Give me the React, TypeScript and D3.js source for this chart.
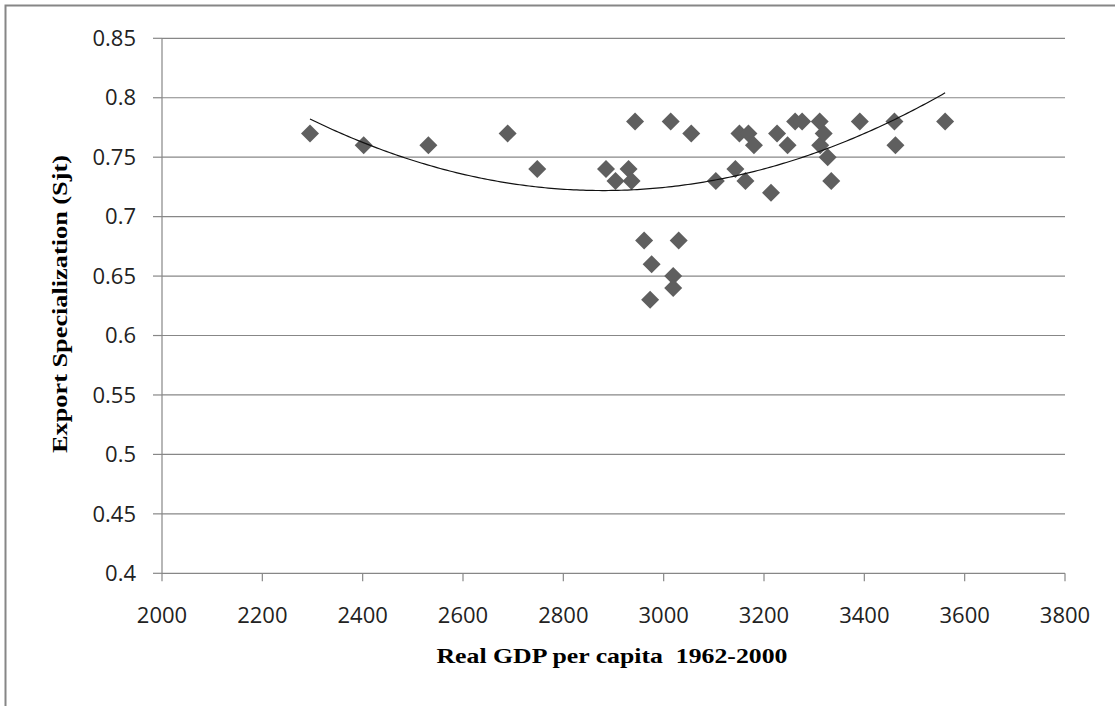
import React from "react";
import * as d3 from "d3";

const gdp = [
  2295, 2402, 2531, 2689, 2748, 2885, 2904, 2930, 2936, 2943, 2961, 2973, 2976,
  3014, 3019, 3019, 3030, 3055, 3104, 3143, 3151, 3163, 3169, 3180, 3214, 3226,
  3247, 3262, 3276, 3311, 3312, 3319, 3327, 3334, 3391, 3460, 3462, 3561,
];
const spec = [
  0.77, 0.76, 0.76, 0.77, 0.74, 0.74, 0.73, 0.74, 0.73, 0.78, 0.68, 0.63, 0.66,
  0.78, 0.65, 0.64, 0.68, 0.77, 0.73, 0.74, 0.77, 0.73, 0.77, 0.76, 0.72, 0.77,
  0.76, 0.78, 0.78, 0.78, 0.76, 0.77, 0.75, 0.73, 0.78, 0.78, 0.76, 0.78,
];
const xTicks = [2000, 2200, 2400, 2600, 2800, 3000, 3200, 3400, 3600, 3800];
const yTicks = [0.4, 0.45, 0.5, 0.55, 0.6, 0.65, 0.7, 0.75, 0.8, 0.85];
const xTitle = "Real GDP per capita  1962-2000";
const yTitle = "Export Specialization (Sjt)";

// least-squares quadratic fit (Excel polynomial trendline, order 2)
function quadFit(xs: number[], ys: number[]) {
  const n = xs.length;
  const mx = d3.mean(xs) as number;
  const u = xs.map((v) => (v - mx) / 1000);
  let s0 = n, s1 = 0, s2 = 0, s3 = 0, s4 = 0, t0 = 0, t1 = 0, t2 = 0;
  for (let i = 0; i < n; i++) {
    const a = u[i], y = ys[i];
    s1 += a; s2 += a * a; s3 += a * a * a; s4 += a * a * a * a;
    t0 += y; t1 += a * y; t2 += a * a * y;
  }
  const M = [
    [s0, s1, s2, t0],
    [s1, s2, s3, t1],
    [s2, s3, s4, t2],
  ];
  for (let c = 0; c < 3; c++) {
    for (let r = c + 1; r < 3; r++) {
      const f = M[r][c] / M[c][c];
      for (let k = c; k < 4; k++) M[r][k] -= f * M[c][k];
    }
  }
  const coef = [0, 0, 0];
  for (let r = 2; r >= 0; r--) {
    let s = M[r][3];
    for (let k = r + 1; k < 3; k++) s -= M[r][k] * coef[k];
    coef[r] = s / M[r][r];
  }
  return (x: number) => {
    const a = (x - mx) / 1000;
    return coef[0] + coef[1] * a + coef[2] * a * a;
  };
}

export default function App() {
  const W = 1115, H = 706;
  const x = d3.scaleLinear().domain([2000, 3800]).range([162, 1065]);
  const y = d3.scaleLinear().domain([0.4, 0.85]).range([573.3, 38.3]);
  const f = quadFit(gdp, spec);
  const [xmin, xmax] = d3.extent(gdp) as [number, number];
  const trendPts = d3.range(0, 201).map((i) => {
    const xv = xmin + ((xmax - xmin) * i) / 200;
    return [xv, f(xv)] as [number, number];
  });
  const line = d3
    .line<[number, number]>()
    .x((d) => x(d[0]))
    .y((d) => y(d[1]));
  const diamond = (cx: number, cy: number, r: number) =>
    `M${cx},${cy - r}L${cx + r},${cy}L${cx},${cy + r}L${cx - r},${cy}Z`;
  const gridColor = "#878787";
  const tickFont = "'Open Sans', sans-serif";
  const titleFont = "'Liberation Serif', 'Times New Roman', serif";

  return (
    <svg
      width={W}
      height={H}
      style={{ position: "absolute", left: 0, top: 0, display: "block", background: "#fff" }}
    >
      <rect x={5.5} y={5.5} width={W + 10} height={H + 10} fill="#fff" stroke="#868686" strokeWidth={2} />
      {/* gridlines */}
      {yTicks.map((t) => (
        <g key={"g" + t}>
          {t > 0.4 && (
            <line x1={x(2000)} x2={x(3800)} y1={y(t)} y2={y(t)} stroke={gridColor} strokeWidth={1.2} />
          )}
          <line x1={153} x2={x(2000)} y1={y(t)} y2={y(t)} stroke={gridColor} strokeWidth={1.2} />
          <text
            x={136}
            y={y(t)}
            dy="0.35em"
            textAnchor="end"
            fontFamily={tickFont}
            fontSize={22}
            fill="#222"
          >
            {String(t)}
          </text>
        </g>
      ))}
      {/* axes */}
      <line x1={x(2000)} x2={x(2000)} y1={y(0.85)} y2={y(0.4)} stroke={gridColor} strokeWidth={1.2} />
      <line x1={x(2000)} x2={x(3800)} y1={y(0.4)} y2={y(0.4)} stroke={gridColor} strokeWidth={1.2} />
      {xTicks.map((t) => (
        <g key={"x" + t}>
          <line x1={x(t)} x2={x(t)} y1={y(0.4)} y2={y(0.4) + 8} stroke={gridColor} strokeWidth={1.2} />
          <text
            x={x(t)}
            y={623}
            textAnchor="middle"
            fontFamily={tickFont}
            fontSize={22}
            fill="#222"
          >
            {t}
          </text>
        </g>
      ))}
      {/* points */}
      {gdp.map((g, i) => (
        <path key={"p" + i} d={diamond(x(g), y(spec[i]), 9)} fill="#5f5f5f" />
      ))}
      {/* trendline */}
      <path d={line(trendPts) || ""} fill="none" stroke="#111" strokeWidth={1.2} />
      {/* titles */}
      <text
        x={612}
        y={663}
        textAnchor="middle"
        fontFamily={titleFont}
        fontWeight="bold"
        fontSize={21}
        fill="#000"
        textLength={351}
        lengthAdjust="spacingAndGlyphs"
        style={{ whiteSpace: "pre" }}
      >
        {xTitle}
      </text>
      <text
        transform={`translate(67,304) rotate(-90)`}
        textAnchor="middle"
        fontFamily={titleFont}
        fontWeight="bold"
        fontSize={21}
        fill="#000"
        textLength={298}
        lengthAdjust="spacingAndGlyphs"
      >
        {yTitle}
      </text>
    </svg>
  );
}
